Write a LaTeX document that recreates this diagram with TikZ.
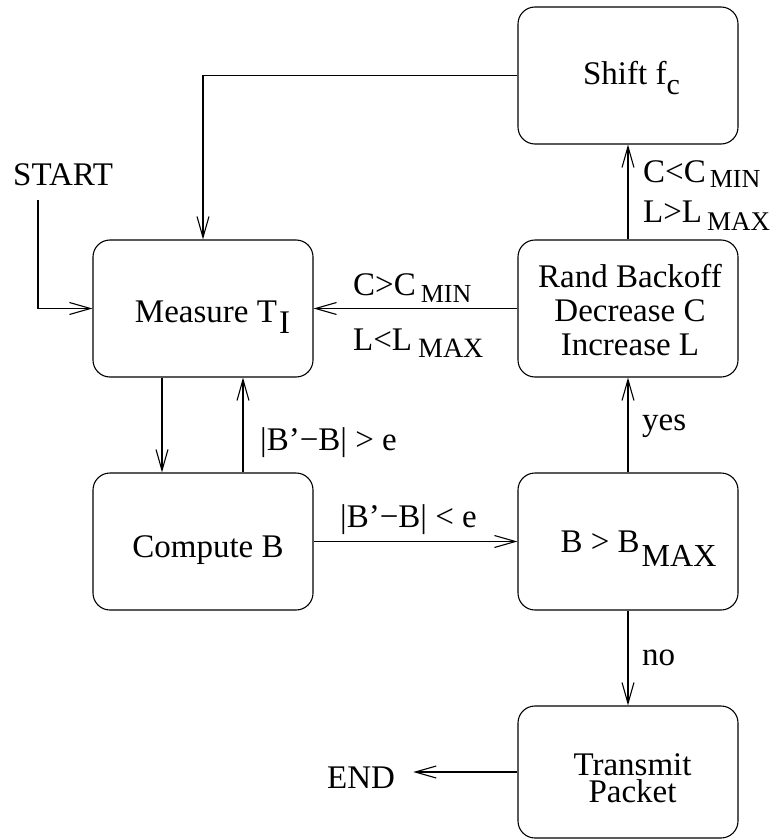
\documentclass[tikz,border=0pt]{standalone}
\usepackage{fontspec}
\setmainfont{Liberation Serif}
\usetikzlibrary{arrows.meta}
\newcommand\fs{\fontsize{33}{34}\selectfont}
\newcommand\bt[3]{\hspace*{#1}\raisebox{#2}[0pt][0pt]{#3}}
\newcommand\sbx[3]{\raisebox{#1}{\fontsize{#2}{#2}\selectfont #3}}
\tikzset{
  box/.style={draw, line width=1.1pt, rounded corners=17pt, minimum width=220pt,
    minimum height=137pt, inner sep=0pt, font=\fs},
  lbl/.style={anchor=base west, inner sep=0pt, font=\fs},
  arr/.style={line width=1.1pt, -{Straight Barb[length=21pt,width=12pt,line width=1.1pt]}}
}
\begin{document}
\begin{tikzpicture}[x=1pt,y=-1pt]
\useasboundingbox (0,0) rectangle (772,840);
% boxes
\node[box] (sh) at (628,75.5) {\bt{7pt}{-9.5pt}{Shift f\sbx{-10pt}{30}{c}}};
\node[box] (meas) at (203,308.5) {\bt{19pt}{-13.5pt}{Measure T\kern2pt\sbx{-11pt}{33}{I}}};
\node[box] (comp) at (203,541.5) {\bt{10pt}{-15.5pt}{Compute B}};
\node[box] (rand) at (628,308.5) {\bt{4pt}{-46.5pt}{\begin{tabular}[b]{@{}c@{}}Rand Backoff\\ Decrease C\\ Increase L\end{tabular}}};
\node[box] (bmax) at (628,541.5) {\bt{21pt}{-10.5pt}{B > B\kern2pt\sbx{-14pt}{32}{MAX}}};
\node[box, minimum height=132pt] (tr) at (628,772) {\bt{9pt}{-30pt}{\begin{tabular}[b]{@{}c@{}}Transmit\\[-7pt] Packet\end{tabular}}};
% labels
\node[lbl] (start) at (13,185) {START};
\node[lbl] (endn) at (327,788) {END};
\node[lbl] (l1) at (260,450) {|B’−B| > e};
\node[lbl] (l2) at (340,527) {|B’−B| < e};
\node[lbl] (yes) at (642,430) {yes};
\node[lbl] (no) at (642,665) {no};
\node[lbl] (l3) at (353,295) {C>C\kern5pt\sbx{-7pt}{26}{MIN}};
\node[lbl] (l4) at (353,350) {L<L\kern6pt\sbx{-7pt}{28}{MAX}};
\node[lbl] (l5) at (643,182) {C<C\kern4pt\sbx{-5pt}{26}{MIN}};
\node[lbl] (l6) at (643,222) {L>L\kern5pt\sbx{-8pt}{27}{MAX}};
% connectors
\coordinate (s0) at (38,200);
\draw[arr] (sh.west) -| (meas.north);
\draw[arr] (s0) |- (meas.west);
\draw[arr] ([xshift=-41pt]meas.south) -- ([xshift=-41pt]comp.north);
\draw[arr] ([xshift=40pt]comp.north) -- ([xshift=40pt]meas.south);
\draw[arr] (comp.east) -- (bmax.west);
\draw[arr] (bmax.north) -- (rand.south);
\draw[arr] (bmax.south) -- (tr.north);
\draw[arr] (rand.west) -- (meas.east);
\draw[arr] (rand.north) -- (sh.south);
\draw[arr, shorten >=18pt] (tr.west) -- (tr.west -| endn.east);
\end{tikzpicture}
\end{document}
